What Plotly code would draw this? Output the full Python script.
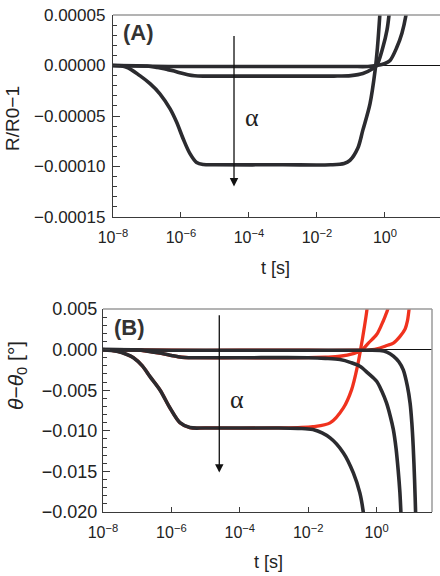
import plotly.graph_objects as go

# ---------------- data ----------------
# Panel A: R/R0-1 ; x given as log10(t [s])
a1_logt = [-8, -6, -4, -2, -1, -0.5, -0.25, 0.0, 0.15, 0.35, 0.5, 0.62, 0.72]
a1_val = [0, -0.1e-5, -0.1e-5, -0.1e-5, -0.1e-5, -0.1e-5, 0.0, 0.2e-5, 0.5e-5, 1.8e-5, 3.2e-5, 5e-5, 7.5e-5]

a2_logt = [-8, -7.0, -6.7, -6.4, -6.2, -6.0, -5.8, -5.6, -5.3, -4, -2, -1.5, -1.0, -0.65, -0.35, -0.24, -0.06, 0.06, 0.12, 0.2]
a2_val = [0, -0.05e-5, -0.2e-5, -0.4e-5, -0.55e-5, -0.75e-5, -0.92e-5, -1.02e-5, -1.05e-5, -1.05e-5, -1.05e-5,
          -1.05e-5, -1.0e-5, -0.8e-5, -0.3e-5, 0.0, 1.8e-5, 3.5e-5, 5e-5, 8e-5]

a3_logt = [-8, -7.6, -7.21, -6.91, -6.62, -6.32, -6.13, -5.93, -5.74, -5.54, -5.34, -5.0, -3, -1.6, -1.2, -1.03,
           -0.8, -0.65, -0.44, -0.29, -0.22, -0.15, -0.08]
a3_val = [0, -0.17e-5, -1.0e-5, -1.8e-5, -2.8e-5, -4.3e-5, -5.6e-5, -7.3e-5, -8.7e-5, -9.6e-5, -9.8e-5, -9.83e-5,
          -9.83e-5, -9.83e-5, -9.7e-5, -9.4e-5, -8.2e-5, -6.4e-5, -3.8e-5, -0.5e-5, 1.8e-5, 5e-5, 9e-5]

# Panel B: theta - theta0 [deg]
b1_logt = [-8, -6, -4, -2, -0.5, 0.1, 0.3, 0.49, 0.65, 0.78, 0.9, 0.98, 1.03, 1.07, 1.11, 1.14, 1.17]
b1_val = [0, -0.00008, -0.00008, -0.00008, -0.00008, -0.0001, -0.0003, -0.0008, -0.0015, -0.0025, -0.0045,
          -0.0066, -0.009, -0.0119, -0.016, -0.020, -0.025]
r1_logt = [-8, -6, -4, -2, -0.5, -0.2, 0.1, 0.3, 0.49, 0.68, 0.83, 0.9, 0.95, 1.0]
r1_val = [0, -0.00008, -0.00008, -0.00008, -0.00008, -0.00005, 0.0002, 0.0005, 0.0008, 0.0016, 0.0025, 0.0035,
          0.005, 0.0068]

b2_logt = [-8, -7.0, -6.7, -6.4, -6.2, -6.0, -5.8, -5.6, -5.3, -4, -2.0, -1.5, -1.07, -0.75, -0.49, -0.25, 0.0,
           0.15, 0.29, 0.4, 0.49, 0.57, 0.63, 0.68, 0.71, 0.76]
b2_val = [0, -0.00005, -0.0002, -0.0004, -0.00055, -0.00072, -0.00088, -0.00097, -0.001, -0.001, -0.001,
          -0.00108, -0.00123, -0.0016, -0.00205, -0.0029, -0.0039, -0.0051, -0.00657, -0.0082, -0.00985,
          -0.0122, -0.0148, -0.0175, -0.020, -0.025]
r2_logt = [-8, -7.0, -6.7, -6.4, -6.2, -6.0, -5.8, -5.6, -5.3, -4, -2.0, -1.5, -1.07, -0.68, -0.44, -0.24, 0.0,
           0.15, 0.25, 0.33, 0.42]
r2_val = [0, -0.00005, -0.0002, -0.0004, -0.00055, -0.00072, -0.00088, -0.00097, -0.001, -0.001, -0.001,
          -0.00093, -0.00082, -0.0005, -0.0001, 0.0008, 0.00185, 0.0031, 0.0041, 0.005, 0.0065]

b3_logt = [-8, -7.6, -7.3, -7.11, -6.85, -6.63, -6.33, -6.04, -5.75, -5.46, -5.0, -3, -2.3, -1.86, -1.36, -0.97,
           -0.68, -0.49, -0.39, -0.3]
b3_val = [0, -0.0002, -0.0006, -0.001, -0.002, -0.0033, -0.005, -0.0072, -0.009, -0.0096, -0.00965, -0.00965,
          -0.0097, -0.00985, -0.01087, -0.01272, -0.01518, -0.01765, -0.0200, -0.024]
r3_logt = [-8, -7.6, -7.3, -7.11, -6.85, -6.63, -6.33, -6.04, -5.75, -5.46, -5.0, -3, -2.3, -1.86, -1.36, -0.97,
           -0.73, -0.56, -0.46, -0.37, -0.28, -0.2]
r3_val = [0, -0.0002, -0.0006, -0.001, -0.002, -0.0033, -0.005, -0.0072, -0.009, -0.0096, -0.00965, -0.00965,
          -0.0096, -0.0095, -0.00903, -0.00718, -0.00493, -0.00205, 0.0002, 0.00246, 0.005, 0.009]

xtick_vals = [1e-8, 1e-6, 1e-4, 1e-2, 1e0]
xtick_text = ["10<sup>−8</sup>", "10<sup>−6</sup>", "10<sup>−4</sup>", "10<sup>−2</sup>", "10<sup>0</sup>"]
ya_ticks = [0.00005, 0.0, -0.00005, -0.0001, -0.00015]
yb_ticks = [0.005, 0.0, -0.005, -0.010, -0.015, -0.020]

# ---------------- figure ----------------
DARK = "#2b2b2f"
RED = "#f0321e"
LW = 3.6
FONT = "Liberation Sans, Arial, Helvetica, sans-serif"


def t_of(logs):
    return [10 ** v for v in logs]


fig = go.Figure()

for lt, v in [(a1_logt, a1_val), (a2_logt, a2_val), (a3_logt, a3_val)]:
    fig.add_trace(go.Scatter(x=t_of(lt), y=v, mode="lines", xaxis="x", yaxis="y",
                             line=dict(color=DARK, width=LW, shape="spline", smoothing=0.9),
                             showlegend=False, hoverinfo="skip"))

for lt, v in [(r1_logt, r1_val), (r2_logt, r2_val), (r3_logt, r3_val)]:
    fig.add_trace(go.Scatter(x=t_of(lt), y=v, mode="lines", xaxis="x2", yaxis="y2",
                             line=dict(color=RED, width=LW - 0.3, shape="spline", smoothing=0.9),
                             showlegend=False, hoverinfo="skip"))
for lt, v in [(b1_logt, b1_val), (b2_logt, b2_val), (b3_logt, b3_val)]:
    fig.add_trace(go.Scatter(x=t_of(lt), y=v, mode="lines", xaxis="x2", yaxis="y2",
                             line=dict(color=DARK, width=LW, shape="spline", smoothing=0.9),
                             showlegend=False, hoverinfo="skip"))

AX_COLOR = "#3a3a3a"
xa_common = dict(type="log", range=[-8, 1.62], tickvals=xtick_vals, ticktext=xtick_text,
                 ticks="inside", ticklen=5, tickwidth=1, tickcolor=AX_COLOR,
                 showline=True, linecolor=AX_COLOR, linewidth=1.3, mirror=False,
                 showgrid=False, zeroline=False, automargin=False,
                 tickfont=dict(family=FONT, size=16, color="#222"), ticklabelstandoff=6)

fig.update_layout(
    width=440, height=576,
    margin=dict(l=0, r=0, t=0, b=0),
    paper_bgcolor="white", plot_bgcolor="white",
    xaxis=dict(domain=[113 / 440, 1.0], anchor="y", **xa_common),
    yaxis=dict(domain=[1 - 217 / 576, 1 - 15 / 576], anchor="x", range=[-0.00015, 0.00005],
               tickvals=ya_ticks, tickformat=".5f", ticks="inside", ticklen=7, tickwidth=1,
               tickcolor=AX_COLOR, showline=True, linecolor=AX_COLOR, linewidth=1.3,
               showgrid=False, zeroline=True, zerolinecolor="#111", zerolinewidth=1, automargin=False,
               minor=dict(dtick=0.00001, ticks="inside", ticklen=4, tickcolor=AX_COLOR, showgrid=False),
               tickfont=dict(family=FONT, size=17, color="#222"), ticklabelstandoff=3),
    xaxis2=dict(domain=[103 / 440, 432 / 440], anchor="y2", **xa_common),
    yaxis2=dict(domain=[1 - 512 / 576, 1 - 309 / 576], anchor="x2", range=[-0.020, 0.005],
                tickvals=yb_ticks, tickformat=".3f", ticks="inside", ticklen=7, tickwidth=1,
                tickcolor=AX_COLOR, showline=True, linecolor=AX_COLOR, linewidth=1.3,
                showgrid=False, zeroline=True, zerolinecolor="#111", zerolinewidth=1, automargin=False,
                minor=dict(dtick=0.001, ticks="inside", ticklen=4, tickcolor=AX_COLOR, showgrid=False),
                tickfont=dict(family=FONT, size=18, color="#222"), ticklabelstandoff=1),
)

# frame lines (top / right) in light gray
GRAY = "#9a9a9a"
fig.add_shape(type="line", xref="x domain", yref="y domain", x0=0, x1=1, y0=1, y1=1,
              line=dict(color=GRAY, width=1.5))
fig.add_shape(type="line", xref="x2 domain", yref="y2 domain", x0=0, x1=1, y0=1, y1=1,
              line=dict(color=GRAY, width=1.5))
fig.add_shape(type="line", xref="x2 domain", yref="y2 domain", x0=1, x1=1, y0=0, y1=1,
              line=dict(color=GRAY, width=1.5))

# arrows
fig.add_annotation(x=-4.44, y=-0.0001198, ax=-4.44, ay=0.0000307, xref="x", yref="y", axref="x", ayref="y",
                   showarrow=True, arrowhead=2, arrowsize=1.3, arrowwidth=1.3, arrowcolor="#111", text="")
fig.add_annotation(x=-4.6, y=-0.01515, ax=-4.6, ay=0.00443, xref="x2", yref="y2", axref="x2", ayref="y2",
                   showarrow=True, arrowhead=2, arrowsize=1.3, arrowwidth=1.3, arrowcolor="#111", text="")


def label(px, py, text, size, family=FONT, color="#222", angle=0):
    fig.add_annotation(x=px / 440, y=1 - py / 576, xref="paper", yref="paper", text=text, showarrow=False,
                       xanchor="center", yanchor="middle", textangle=angle,
                       font=dict(family=family, size=size, color=color))


SERIF = "Liberation Serif, Times New Roman, serif"
# alpha labels
label(252, 117, "α", 26, SERIF)
label(237, 399, "α", 26, SERIF)
# panel labels
label(138, 32, "<b>(A)</b>", 22, color="#333")
label(129, 327, "<b>(B)</b>", 22, color="#333")
# axis titles
label(275, 268, "t [s]", 18)
label(268, 562, "t [s]", 18)
label(12, 119, "R/R0−1", 19, angle=-90)
label(17, 376, "<i>θ</i>−<i>θ</i><sub>0</sub> [°]", 21, angle=-90)

fig.write_html("out.html")
